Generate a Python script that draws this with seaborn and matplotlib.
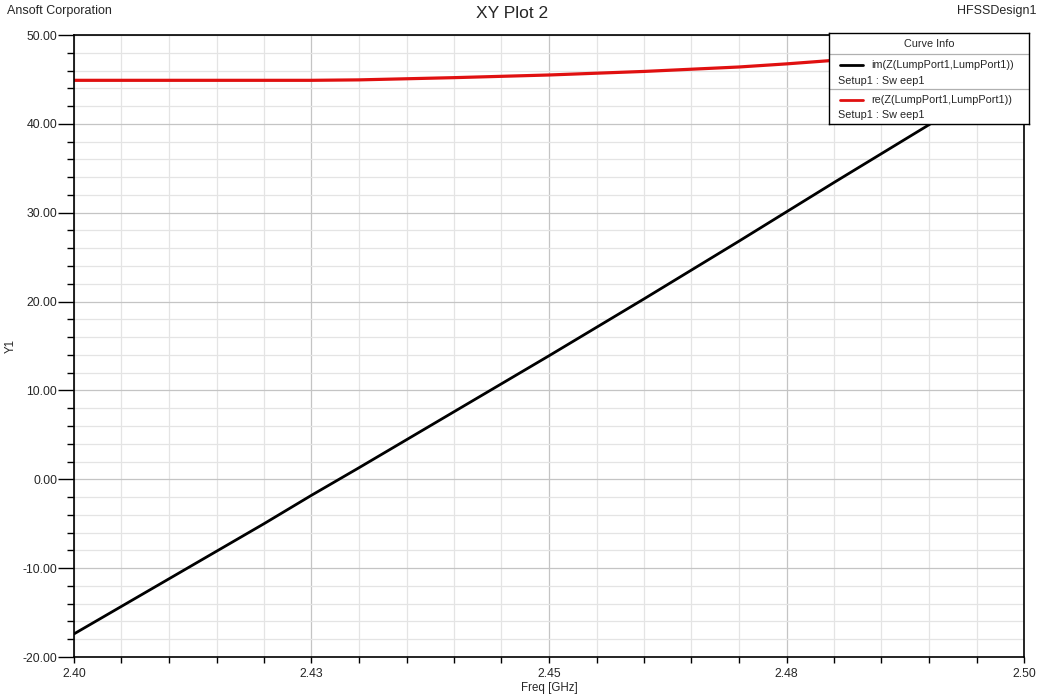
import numpy as np
import pandas as pd
import matplotlib
matplotlib.use("Agg")
import matplotlib.pyplot as plt
from matplotlib.ticker import MultipleLocator, FixedLocator, FixedFormatter, FormatStrFormatter
import seaborn as sns

# values
freq = [2.400, 2.410, 2.420, 2.425, 2.430, 2.440, 2.450, 2.460, 2.470, 2.475, 2.480, 2.490, 2.500]
im_z = [-17.4, -11.2, -5.0, -1.8, 1.3, 7.6, 13.9, 20.3, 26.8, 30.1, 33.4, 39.9, 46.5]
re_z = [44.9, 44.9, 44.9, 44.9, 44.95, 45.2, 45.5, 45.9, 46.4, 46.75, 47.15, 47.9, 48.7]

x_ticks = [2.400, 2.425, 2.450, 2.475, 2.500]
x_tick_labels = ["2.40", "2.43", "2.45", "2.48", "2.50"]

im_label = "im(Z(LumpPort1,LumpPort1))"
re_label = "re(Z(LumpPort1,LumpPort1))"
sweep_label = "Setup1 : Sw eep1"

RED = "#e01010"
FONT = ["Liberation Sans", "DejaVu Sans"]

sns.set_style("white")
plt.rcParams["font.family"] = FONT

df = pd.DataFrame({"Freq": freq, "im": im_z, "re": re_z})

W, H = 1044, 699
fig = plt.figure(figsize=(W / 100, H / 100), dpi=100)
ax = fig.add_axes([74 / W, 1 - 657 / H, (1024 - 74) / W, (657 - 35) / H])

sns.lineplot(data=df, x="Freq", y="im", ax=ax, color="black", linewidth=2.0)
sns.lineplot(data=df, x="Freq", y="re", ax=ax, color=RED, linewidth=2.3)

ax.set_xlim(2.40, 2.50)
ax.set_ylim(-20, 50)

ax.xaxis.set_major_locator(FixedLocator(x_ticks))
ax.xaxis.set_major_formatter(FixedFormatter(x_tick_labels))
ax.xaxis.set_minor_locator(MultipleLocator(0.005))
ax.yaxis.set_major_locator(MultipleLocator(10))
ax.yaxis.set_minor_locator(MultipleLocator(2))
ax.yaxis.set_major_formatter(FormatStrFormatter("%.2f"))

ax.grid(True, which="major", color="#c4c4c4", linewidth=0.9)
ax.grid(True, which="minor", color="#e4e4e4", linewidth=0.9)
ax.set_axisbelow(True)

for s in ax.spines.values():
    s.set_color("black")
    s.set_linewidth(1.2)

ax.tick_params(axis="y", which="major", direction="out", length=11.5, width=1.0,
               color="black", labelsize=8.8, pad=0.5, left=True)
ax.tick_params(axis="y", which="minor", direction="out", length=5, width=1.0,
               color="black", left=True)
ax.tick_params(axis="x", which="major", direction="out", length=4, width=1.0,
               color="black", labelsize=8.8, pad=4, bottom=True)
ax.tick_params(axis="x", which="minor", direction="out", length=4, width=1.0,
               color="black", bottom=True)

ax.set_xlabel("Freq [GHz]", fontsize=8.3, labelpad=1)
ax.set_ylabel("Y1", fontsize=8.3)
ax.yaxis.set_label_coords((17 - 74) / 950, 0.5)

fig.text(7 / W, 1 - 11 / H, "Ansoft Corporation", fontsize=9, ha="left", va="center")
fig.text(512 / W, 1 - 13 / H, "XY Plot 2", fontsize=12.5, ha="center", va="center")
fig.text(1037 / W, 1 - 11 / H, "HFSSDesign1", fontsize=9, ha="right", va="center")

# "Curve Info" box, drawn in pixel coordinates of the figure
lx0, lx1, ly0, ly1 = 829, 1029, 33, 124
lg = fig.add_axes([lx0 / W, 1 - ly1 / H, (lx1 - lx0) / W, (ly1 - ly0) / H])
lg.set_xlim(lx0, lx1)
lg.set_ylim(ly1, ly0)
lg.set_xticks([])
lg.set_yticks([])
lg.set_facecolor("white")
for s in lg.spines.values():
    s.set_visible(True)
    s.set_color("black")
    s.set_linewidth(1.0)
lg.text(929, 44, "Curve Info", fontsize=7.8, ha="center", va="center")
lg.plot([lx0, lx1], [54, 54], color="#b0b0b0", linewidth=0.9)
lg.plot([lx0, lx1], [89, 89], color="#b0b0b0", linewidth=0.9)
lg.plot([840, 863], [65, 65], color="black", linewidth=2.0)
lg.text(871, 65, im_label, fontsize=7.8, ha="left", va="center")
lg.text(838, 81, sweep_label, fontsize=7.8, ha="left", va="center")
lg.plot([840, 863], [100, 100], color=RED, linewidth=2.0)
lg.text(871, 100, re_label, fontsize=7.8, ha="left", va="center")
lg.text(838, 115, sweep_label, fontsize=7.8, ha="left", va="center")

fig.savefig("out.png", dpi=100)
